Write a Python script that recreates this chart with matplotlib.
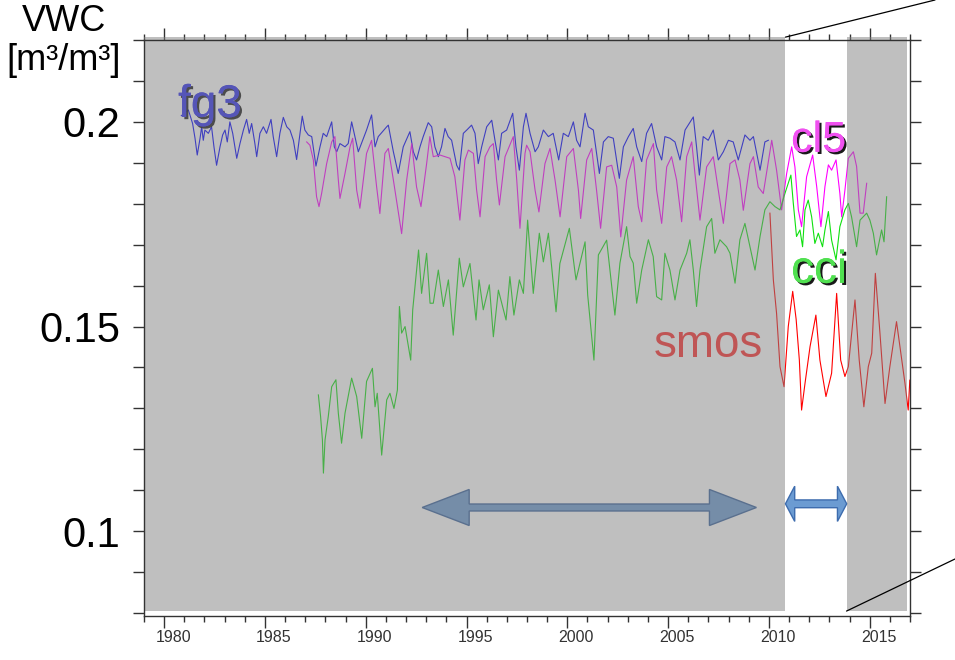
import numpy as np
import matplotlib
matplotlib.use("Agg")
import matplotlib.pyplot as plt
from matplotlib.patches import Polygon, ConnectionPatch
from matplotlib.ticker import MultipleLocator, FixedLocator
from matplotlib.transforms import ScaledTranslation
import matplotlib.patheffects as pe

plt.rcParams["font.family"] = ["Liberation Sans", "DejaVu Sans"]

# fg3 (ERA first guess)
fg3_t = [1980.85, 1981.20, 1981.41, 1981.53, 1981.64, 1981.78, 1981.86, 1981.94, 1982.02, 1982.19,
         1982.35, 1982.47, 1982.60, 1982.77, 1982.90, 1983.02, 1983.13, 1983.26, 1983.40, 1983.60,
         1983.76, 1983.93, 1984.09, 1984.22, 1984.34, 1984.50, 1984.59, 1984.75, 1984.92, 1985.08,
         1985.30, 1985.41, 1985.58, 1985.74, 1985.91, 1986.08, 1986.24, 1986.41, 1986.57, 1986.74,
         1986.85, 1986.98, 1987.15, 1987.32, 1987.53, 1987.73, 1987.89, 1988.06, 1988.31, 1988.44,
         1988.56, 1988.72, 1988.97, 1989.13, 1989.30, 1989.46, 1989.63, 1990.04, 1990.29, 1990.46,
         1990.62, 1991.04, 1991.12, 1991.37, 1991.61, 1991.86, 1992.19, 1992.36, 1992.52, 1992.69,
         1992.85, 1993.10, 1993.27, 1993.43, 1993.60, 1993.76, 1993.93, 1994.09, 1994.26, 1994.51,
         1994.64, 1994.84, 1995.01, 1995.25, 1995.42, 1995.58, 1995.75, 1996.00, 1996.25, 1996.41,
         1996.58, 1996.74, 1996.99, 1997.29, 1997.45, 1997.62, 1997.82, 1997.95, 1998.15, 1998.40,
         1998.56, 1998.81, 1999.06, 1999.30, 1999.57, 1999.80, 2000.05, 2000.30, 2000.46, 2000.63,
         2000.88, 2001.04, 2001.29, 2001.59, 2001.79, 2002.03, 2002.28, 2002.58, 2002.78, 2003.03,
         2003.27, 2003.44, 2003.69, 2003.93, 2004.18, 2004.43, 2004.68, 2004.84, 2005.09, 2005.34,
         2005.59, 2005.84, 2006.25, 2006.41, 2006.55, 2006.74, 2006.99, 2007.24, 2007.49, 2007.74,
         2007.99, 2008.23, 2008.48, 2008.81, 2009.06, 2009.23, 2009.56, 2009.80, 2009.97]
fg3_v = [0.2015, 0.2029, 0.1996, 0.1960, 0.1919, 0.1960, 0.1988, 0.1955, 0.1980, 0.1972,
         0.1988, 0.1939, 0.1894, 0.1939, 0.1968, 0.1980, 0.1951, 0.2000, 0.1972, 0.1911,
         0.1947, 0.1980, 0.2006, 0.1972, 0.1996, 0.1947, 0.1915, 0.1972, 0.1988, 0.1972,
         0.2006, 0.1964, 0.1915, 0.1972, 0.2011, 0.1988, 0.1980, 0.1955, 0.1908, 0.1972,
         0.2014, 0.1980, 0.1968, 0.1964, 0.1892, 0.1939, 0.1972, 0.1964, 0.2000, 0.1939,
         0.1927, 0.1947, 0.1939, 0.1947, 0.2000, 0.1964, 0.1927, 0.1980, 0.2017, 0.1939,
         0.1964, 0.1988, 0.1992, 0.1927, 0.1874, 0.1939, 0.1976, 0.1927, 0.1907, 0.1939,
         0.1964, 0.1998, 0.1988, 0.1939, 0.1915, 0.1939, 0.1984, 0.1964, 0.1955, 0.1894,
         0.1882, 0.1972, 0.1980, 0.1992, 0.1972, 0.1898, 0.1939, 0.1988, 0.2004, 0.1955,
         0.1907, 0.1972, 0.1980, 0.2021, 0.1939, 0.1882, 0.1988, 0.2021, 0.1972, 0.1927,
         0.1939, 0.1980, 0.1964, 0.1972, 0.1907, 0.1972, 0.1964, 0.2000, 0.1955, 0.1939,
         0.2021, 0.1988, 0.1980, 0.1874, 0.1951, 0.1964, 0.1960, 0.1862, 0.1939, 0.1964,
         0.1984, 0.1939, 0.1903, 0.1972, 0.1996, 0.1939, 0.1907, 0.1964, 0.1960, 0.1951,
         0.1907, 0.1980, 0.2012, 0.1939, 0.1870, 0.1964, 0.1955, 0.1980, 0.1907, 0.1927,
         0.1955, 0.1951, 0.1907, 0.1968, 0.1955, 0.1964, 0.1882, 0.1951, 0.1955]

# cl5
cl5_t = [1987.07, 1987.23, 1987.40, 1987.56, 1987.68, 1987.81, 1988.06, 1988.31, 1988.47, 1988.64,
         1988.72, 1988.97, 1989.22, 1989.35, 1989.55, 1989.71, 1990.04, 1990.29, 1990.54, 1990.70,
         1990.95, 1991.12, 1991.37, 1991.78, 1992.03, 1992.28, 1992.52, 1992.74, 1993.02, 1993.18,
         1993.35, 1993.68, 1994.18, 1994.42, 1994.67, 1994.92, 1995.09, 1995.34, 1995.50, 1995.67,
         1995.92, 1996.16, 1996.33, 1996.49, 1996.63, 1996.91, 1997.32, 1997.49, 1997.65, 1997.90,
         1997.98, 1998.15, 1998.40, 1998.59, 1998.89, 1999.14, 1999.39, 1999.64, 1999.97, 2000.30,
         2000.55, 2000.66, 2000.96, 2001.21, 2001.45, 2001.65, 2001.95, 2002.20, 2002.45, 2002.65,
         2002.94, 2003.27, 2003.52, 2003.69, 2003.93, 2004.27, 2004.43, 2004.68, 2004.93, 2005.17,
         2005.42, 2005.67, 2005.92, 2006.17, 2006.33, 2006.58, 2006.91, 2007.24, 2007.49, 2007.74,
         2008.07, 2008.32, 2008.56, 2008.73, 2009.06, 2009.23, 2009.47, 2009.72, 2010.14, 2010.38,
         2010.63, 2010.88, 2011.13, 2011.29, 2011.46, 2011.62, 2011.87, 2012.17, 2012.37, 2012.58,
         2012.78, 2012.95, 2013.11, 2013.33, 2013.52, 2013.61, 2013.77, 2013.94, 2014.19, 2014.35,
         2014.52, 2014.68, 2014.85]
cl5_v = [0.1951, 0.1943, 0.1907, 0.1817, 0.1793, 0.1825, 0.1898, 0.1951, 0.1964, 0.1858,
         0.1813, 0.1874, 0.1939, 0.1960, 0.1833, 0.1789, 0.1923, 0.1955, 0.1841, 0.1776,
         0.1923, 0.1935, 0.1858, 0.1727, 0.1858, 0.1947, 0.1841, 0.1793, 0.1898, 0.1964,
         0.1915, 0.1919, 0.1911, 0.1866, 0.1760, 0.1907, 0.1931, 0.1923, 0.1833, 0.1768,
         0.1915, 0.1939, 0.1947, 0.1858, 0.1797, 0.1915, 0.1964, 0.1858, 0.1740, 0.1923,
         0.1943, 0.1927, 0.1833, 0.1780, 0.1898, 0.1935, 0.1858, 0.1768, 0.1915, 0.1935,
         0.1833, 0.1764, 0.1907, 0.1935, 0.1833, 0.1740, 0.1890, 0.1894, 0.1841, 0.1719,
         0.1858, 0.1915, 0.1793, 0.1756, 0.1907, 0.1947, 0.1833, 0.1752, 0.1890, 0.1915,
         0.1858, 0.1756, 0.1915, 0.1951, 0.1874, 0.1760, 0.1890, 0.1915, 0.1833, 0.1752,
         0.1898, 0.1907, 0.1858, 0.1784, 0.1898, 0.1915, 0.1841, 0.1825, 0.1955, 0.1882,
         0.1785, 0.1874, 0.1939, 0.1890, 0.1785, 0.1744, 0.1866, 0.1919, 0.1842, 0.1744,
         0.1842, 0.1895, 0.1882, 0.1907, 0.1825, 0.1768, 0.1833, 0.1911, 0.1927, 0.1891,
         0.1777, 0.1777, 0.1850]

# cci
cci_t = [1987.65, 1987.76, 1987.85, 1987.90, 1987.98, 1988.14, 1988.31, 1988.52, 1988.64, 1988.80,
         1988.97, 1989.30, 1989.55, 1989.80, 1990.04, 1990.33, 1990.46, 1990.57, 1990.79, 1991.04,
         1991.20, 1991.40, 1991.57, 1991.67, 1991.78, 1991.95, 1992.23, 1992.33, 1992.62, 1992.77,
         1993.02, 1993.19, 1993.35, 1993.60, 1993.85, 1994.10, 1994.34, 1994.64, 1994.84, 1995.17,
         1995.47, 1995.62, 1995.83, 1996.13, 1996.33, 1996.58, 1996.96, 1997.15, 1997.35, 1997.62,
         1997.82, 1998.03, 1998.31, 1998.61, 1998.81, 1999.06, 1999.44, 1999.63, 2000.10, 2000.43,
         2000.88, 2001.01, 2001.32, 2001.54, 2001.95, 2002.36, 2002.61, 2002.94, 2003.11, 2003.27,
         2003.44, 2003.69, 2004.02, 2004.26, 2004.43, 2004.68, 2004.84, 2005.09, 2005.34, 2005.59,
         2005.92, 2006.08, 2006.25, 2006.41, 2006.58, 2006.91, 2007.16, 2007.32, 2007.57, 2007.90,
         2008.07, 2008.32, 2008.56, 2008.81, 2009.06, 2009.31, 2009.56, 2009.80, 2010.05, 2010.30,
         2010.55, 2010.80, 2011.09, 2011.21, 2011.37, 2011.54, 2011.67, 2011.79, 2011.95, 2012.12,
         2012.28, 2012.45, 2012.66, 2012.78, 2012.95, 2013.11, 2013.33, 2013.52, 2013.77, 2013.94,
         2014.10, 2014.35, 2014.52, 2014.85, 2015.01, 2015.18, 2015.34, 2015.59, 2015.71, 2015.84]
cci_v = [0.1333, 0.1280, 0.1223, 0.1142, 0.1223, 0.1280, 0.1353, 0.1370, 0.1288, 0.1215,
         0.1288, 0.1374, 0.1329, 0.1227, 0.1366, 0.1398, 0.1304, 0.1337, 0.1186, 0.1321,
         0.1337, 0.1300, 0.1345, 0.1549, 0.1484, 0.1500, 0.1418, 0.1541, 0.1687, 0.1581,
         0.1679, 0.1557, 0.1557, 0.1638, 0.1549, 0.1614, 0.1479, 0.1667, 0.1597, 0.1654,
         0.1516, 0.1614, 0.1541, 0.1602, 0.1475, 0.1589, 0.1516, 0.1622, 0.1528, 0.1614,
         0.1581, 0.1760, 0.1581, 0.1728, 0.1658, 0.1728, 0.1536, 0.1654, 0.1740, 0.1614,
         0.1707, 0.1577, 0.1418, 0.1675, 0.1711, 0.1528, 0.1655, 0.1744, 0.1671, 0.1655,
         0.1557, 0.1638, 0.1712, 0.1671, 0.1573, 0.1565, 0.1679, 0.1638, 0.1565, 0.1638,
         0.1679, 0.1712, 0.1638, 0.1549, 0.1638, 0.1744, 0.1764, 0.1679, 0.1712, 0.1695,
         0.1679, 0.1606, 0.1712, 0.1752, 0.1695, 0.1638, 0.1720, 0.1785, 0.1805, 0.1793,
         0.1785, 0.1826, 0.1870, 0.1801, 0.1720, 0.1736, 0.1695, 0.1785, 0.1809, 0.1768,
         0.1703, 0.1728, 0.1695, 0.1736, 0.1781, 0.1711, 0.1663, 0.1744, 0.1785, 0.1801,
         0.1768, 0.1695, 0.1760, 0.1777, 0.1760, 0.1728, 0.1675, 0.1736, 0.1707, 0.1817]

# smos
smos_t = [2010.05, 2010.22, 2010.38, 2010.55, 2010.75, 2010.96, 2011.18, 2011.35, 2011.51, 2011.62,
          2011.79, 2012.04, 2012.33, 2012.53, 2012.83, 2013.11, 2013.36, 2013.56, 2013.77, 2013.94,
          2014.27, 2014.48, 2014.71, 2014.93, 2015.10, 2015.28, 2015.51, 2015.76, 2016.00, 2016.33,
          2016.50, 2016.75, 2016.91, 2016.99]
smos_v = [0.1777, 0.1614, 0.1532, 0.1402, 0.1353, 0.1500, 0.1586, 0.1518, 0.1418, 0.1296,
          0.1361, 0.1451, 0.1528, 0.1418, 0.1329, 0.1386, 0.1581, 0.1418, 0.1378, 0.1402,
          0.1565, 0.1418, 0.1304, 0.1402, 0.1435, 0.1630, 0.1483, 0.1312, 0.1402, 0.1512,
          0.1451, 0.1361, 0.1296, 0.1369]

white_band = (2010.82, 2013.85)
long_span = (1992.8, 2009.38)
short_span = (2010.82, 2013.86)

fig = plt.figure(figsize=(9.55, 6.6), dpi=100)
ax = fig.add_axes([0.1508, 0.0667, 0.8021, 0.8727])
ax.set_xlim(1979, 2017)
ax.set_ylim(0.0793, 0.22)

ax.plot(fg3_t, fg3_v, color="#0000ff", lw=0.8, zorder=2)
ax.plot(cl5_t, cl5_v, color="#ff00ff", lw=0.8, zorder=2)
ax.plot(cci_t, cci_v, color="#10e010", lw=0.8, zorder=2)
ax.plot(smos_t, smos_v, color="#ff0000", lw=0.8, zorder=2)

shadow = [pe.withSimplePatchShadow(offset=(1.6, -1.6), shadow_rgbFace="black", alpha=0.9), pe.Normal()]
ax.text(1980.69, 0.2012, "fg3", color="#2a2af0", fontsize=33, ha="left", va="baseline",
        path_effects=shadow, zorder=3)
ax.text(2011.1, 0.1927, "cl5", color="#f050f0", fontsize=31, ha="left", va="baseline",
        path_effects=shadow, zorder=3)
ax.text(2011.1, 0.1607, "cci", color="#50e050", fontsize=33, ha="left", va="baseline",
        path_effects=shadow, zorder=3)
ax.text(2004.3, 0.1426, "smos", color="#ff2a2a", fontsize=33, ha="left", va="baseline", zorder=3)


def double_arrow(x0, x1, y, shaft, head_w, head_len, **kw):
    verts = [(x0, y), (x0 + head_len, y + head_w / 2), (x0 + head_len, y + shaft / 2),
             (x1 - head_len, y + shaft / 2), (x1 - head_len, y + head_w / 2), (x1, y),
             (x1 - head_len, y - head_w / 2), (x1 - head_len, y - shaft / 2),
             (x0 + head_len, y - shaft / 2), (x0 + head_len, y - head_w / 2)]
    ax.add_patch(Polygon(verts, closed=True, **kw))


double_arrow(long_span[0], long_span[1], 0.1058, 0.0017, 0.0088, 2.33,
             facecolor="#6b9bd2", edgecolor="#34609e", lw=1, zorder=3)
double_arrow(short_span[0], short_span[1], 0.1067, 0.0019, 0.0086, 0.46,
             facecolor="#6b9bd2", edgecolor="#3d6cae", lw=1, zorder=3)

# semi-transparent gray overlay (everything below it is dimmed)
for x0, x1 in [(1979, white_band[0]), (white_band[1], 2016.85)]:
    ax.axvspan(x0, x1, ymin=0.0087, ymax=1.005, facecolor="#808080", alpha=0.5,
               lw=0, zorder=4, clip_on=False)

for s in ax.spines.values():
    s.set_color("#333333")
    s.set_linewidth(1.0)
    s.set_zorder(10)

ax.xaxis.set_major_locator(MultipleLocator(5))
ax.xaxis.set_minor_locator(MultipleLocator(1))
ax.yaxis.set_major_locator(FixedLocator([0.1, 0.15, 0.2]))
ax.yaxis.set_minor_locator(MultipleLocator(0.01))
ax.set_yticklabels(["0.1", "0.15", "0.2"])
ax.tick_params(axis="both", which="both", direction="out", top=True, right=True,
               color="#333333", width=1.0)
ax.tick_params(axis="x", which="major", length=8.5, labelsize=11.5, labelcolor="#333333", pad=1.5)
ax.tick_params(axis="x", which="minor", length=4.5)
ax.tick_params(axis="y", which="both", length=8, labelsize=30, labelcolor="black", pad=9)
for lab in ax.get_xticklabels():
    lab.set_transform(lab.get_transform() + ScaledTranslation(0.09, 0, fig.dpi_scale_trans))

fig.text(64 / 955, 1 - 4 / 660, "VWC\n[m³/m³]", ha="center", va="top", fontsize=26,
         linespacing=1.16)

# zoom lines to the inset on the right
fig.add_artist(ConnectionPatch(xyA=(white_band[0], 0.2207), coordsA=ax.transData,
                               xyB=(935 / 955, 1.0), coordsB=fig.transFigure,
                               color="black", lw=0.9))
fig.add_artist(ConnectionPatch(xyA=(white_band[1], 0.0805), coordsA=ax.transData,
                               xyB=(1.0, 1 - 559 / 660), coordsB=fig.transFigure,
                               color="black", lw=0.9))

fig.savefig("out.png", dpi=100)
